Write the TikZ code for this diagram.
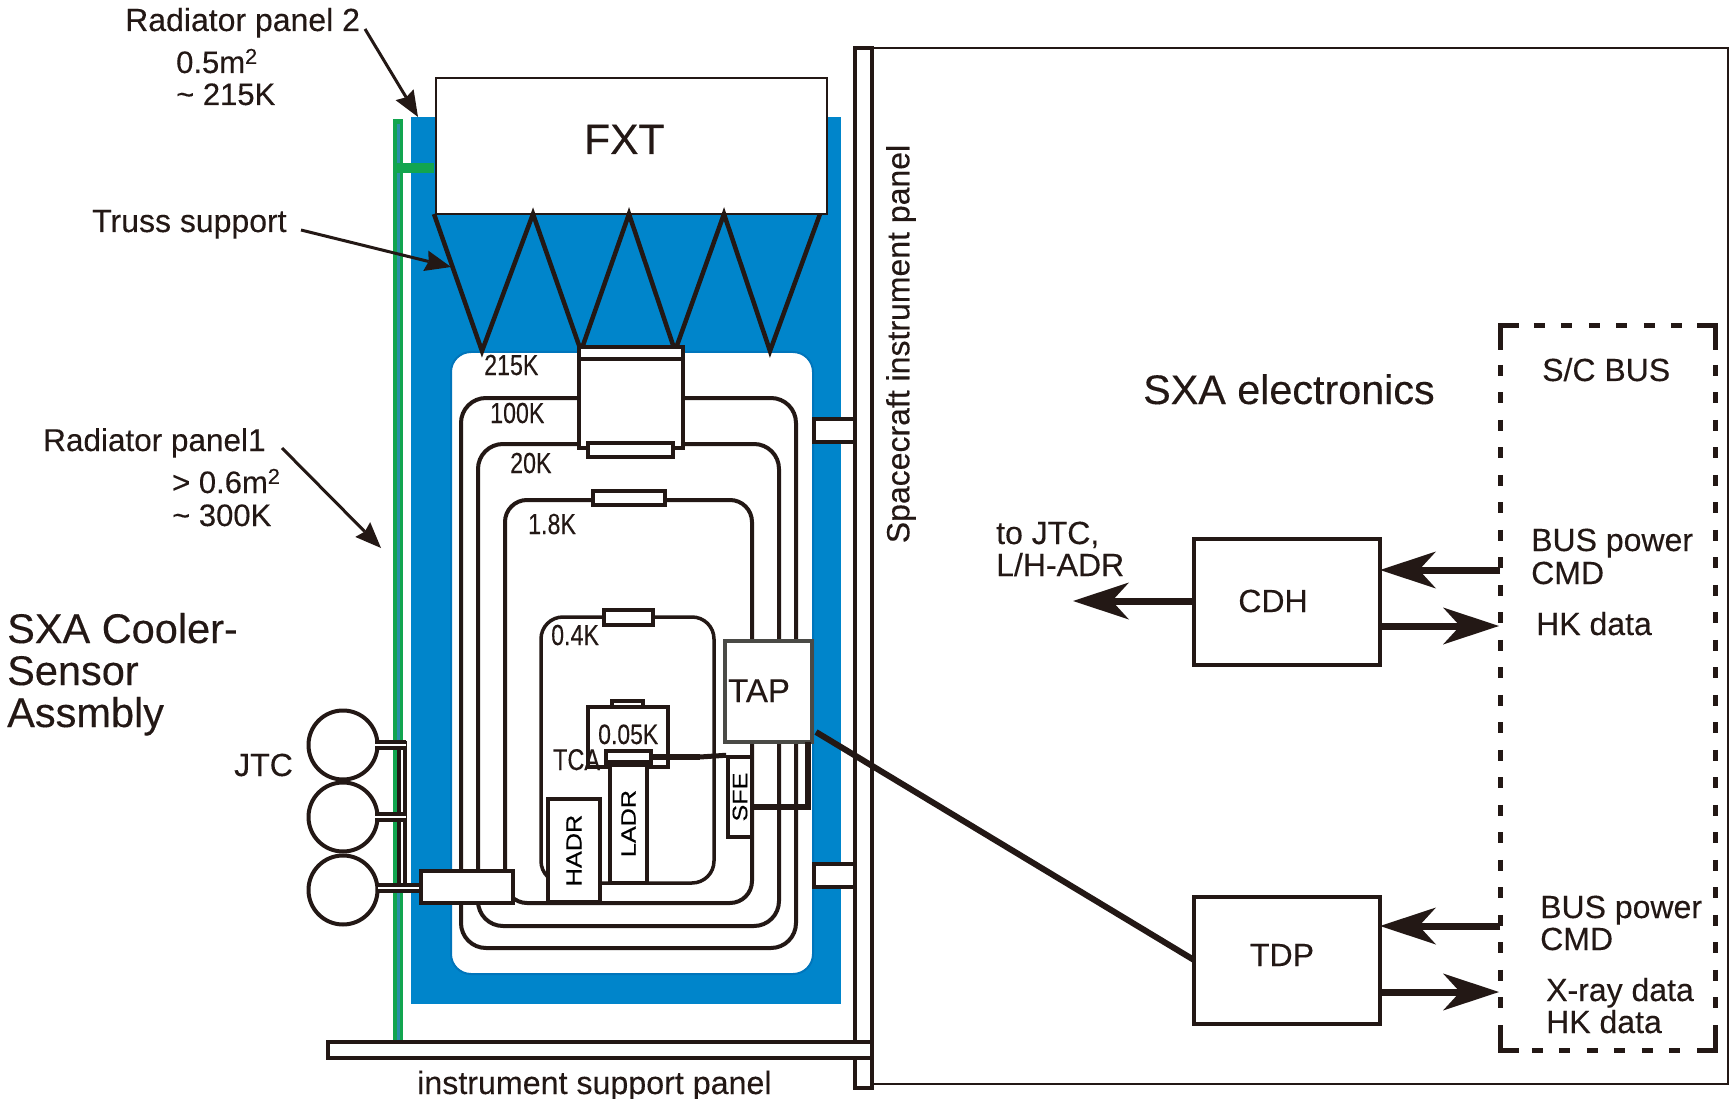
\documentclass[tikz,border=0pt]{standalone}
\usepackage{fontspec}
\usepackage{graphicx}
\setmainfont{Liberation Sans}[FakeBold=0.25]
\usetikzlibrary{arrows.meta}
\definecolor{ink}{HTML}{231815}
\definecolor{panelblue}{HTML}{0085CB}
\definecolor{paneledge}{HTML}{0075BB}
\definecolor{radgreen}{HTML}{12A54F}
\definecolor{radstripe}{HTML}{2A90A8}
\definecolor{tapgray}{HTML}{4A4A46}
\newcommand\fs[1]{\fontsize{#1}{#1}\selectfont}
\newcommand\nar[2]{\scalebox{#1}[1]{#2}}
\newcommand\bx[7]{\node[#6,minimum width={(#4-#2)*1pt},minimum height={(#5-#3)*1pt},inner sep=0pt] (#1) at ({(#2+#4)/2},{(#3+#5)/2}) {#7};}
\tikzset{
  box/.style={draw=ink,fill=white,line width=4pt},
  thinbox/.style={draw=ink,fill=white,line width=3.5pt},
  tapbox/.style={draw=tapgray,fill=white,line width=4.5pt},
  loopline/.style={draw=ink,line width=4pt},
  truss/.style={draw=ink,line width=4.5pt,line join=miter},
  heavywire/.style={draw=ink,line width=6.5pt},
  bigarrow/.style={draw=ink,line width=7pt,-{Stealth[length=56pt,width=37pt,inset=17pt,line width=0pt]}},
  smallarrow/.style={draw=ink,line width=3pt,-{Stealth[length=26pt,width=21pt,inset=3pt,line width=0pt]}},
  tube/.style={draw=ink,line width=4pt,double=white,double distance=2.2pt},
  lbl/.style={text=ink,inner sep=0pt,anchor=base west},
  clbl/.style={text=ink,inner sep=0pt,anchor=center},
  buscorner/.style={draw=ink,line width=4.7pt,line cap=butt,line join=miter},
  busdash/.style={draw=ink,line width=4.7pt,dash pattern=on 11pt off 16.5pt}
}
\begin{document}
\begin{tikzpicture}[x=1pt,y=-1pt]
\useasboundingbox (0,0) rectangle (1730,1099);
% radiator panels
\fill[panelblue] (411,117) rectangle (841,1004);
\fill[radgreen] (393,119) rectangle (403,1042);
\fill[radstripe] (396.5,124) rectangle (399.5,1042);
\fill[radgreen] (397,163) rectangle (434,173);
\draw[fill=white,draw=paneledge,line width=2pt,rounded corners=20pt] (451,352) rectangle (813,974);
% truss
\bx{fxt}{436}{78}{827}{214}{draw=ink,fill=white,line width=2.6pt}{}
\draw[truss] (434,214) -- (482,351) -- (533,214) -- (581,351) -- (629,214) -- (675,351) -- (724,214) -- (770,351) -- (820,214);
% thermal shields
\draw[loopline,rounded corners=25pt] (461,398) rectangle (796,948);
\draw[loopline,rounded corners=25pt] (478,444) rectangle (779,926);
\draw[loopline,rounded corners=22pt] (505,500) rectangle (752,903);
\draw[draw=ink,line width=3.5pt,rounded corners=22pt] (541,617) rectangle (714,883);
% central column
\bx{col}{579}{359}{683}{448}{box}{}
\bx{colcap}{579}{347}{683}{359}{box}{}
\bx{colbar}{588}{443}{673}{457}{box}{}
\bx{barA}{593}{491}{665}{505}{box}{}
\bx{barB}{604}{610}{653}{625}{box}{}
% tabs and structure
\bx{tabA}{814}{419}{858}{442}{box}{}
\bx{tabB}{814}{864}{858}{887}{box}{}
% detector
\bx{capC}{612}{701}{643}{707}{thinbox}{}
\bx{tca}{588}{707}{668}{767}{box}{}
\bx{ladr}{610}{764}{647}{883}{box}{\rotatebox{90}{\fs{21}\nar{1.2}{LADR}}}
\bx{hadr}{548}{799}{600}{902}{box}{\rotatebox{90}{\fs{22}\nar{1.15}{HADR}}}
\bx{sfe}{728}{757}{752}{837}{thinbox}{\rotatebox{90}{\fs{21}\nar{1.2}{SFE}}}
\bx{inbar}{606}{751}{651}{762}{box}{}
\coordinate (inbarR) at (651,757);
\coordinate (wireMid) at (700,757);
\draw[heavywire] (inbar.south west) -- (inbar.south east);
\draw[heavywire] (inbarR) -- (wireMid);
\draw[draw=ink,line width=5pt] (wireMid) -- (sfe.north west);
\bx{tap}{725}{641}{812}{742}{tapbox}{}
\coordinate (tapBR) at (808,742);
\coordinate (tapC) at (808,807);
\coordinate (tapL) at (752,807);
\draw[heavywire] (tapBR) -- (tapC) -- (tapL);
% electronics frame
\bx{frame}{872}{48}{1728}{1084}{draw=ink,fill=white,line width=2.8pt}{}
\bx{scpanel}{855}{48}{872}{1088}{box}{}
\bx{support}{328}{1042}{872}{1058}{box}{}
\bx{cdh}{1194}{539}{1380}{665}{box}{}
\bx{tdp}{1194}{897}{1380}{1024}{box}{}
% S/C bus
\bx{bus}{1501}{326}{1715}{1050}{inner sep=0pt}{}
\draw[busdash] ([xshift=33pt]bus.north west) -- ([xshift=-20pt]bus.north east);
\draw[busdash] ([xshift=31pt]bus.south west) -- ([xshift=-20pt]bus.south east);
\draw[busdash] ([yshift=-39pt]bus.north west) -- ([yshift=28pt]bus.south west);
\draw[busdash] ([yshift=-39pt]bus.north east) -- ([yshift=28pt]bus.south east);
\draw[buscorner] ([yshift=25pt]bus.south west) -- (bus.south west) -- ([xshift=18pt]bus.south west);
\draw[buscorner] ([yshift=25pt]bus.south east) -- (bus.south east) -- ([xshift=-18pt]bus.south east);
\draw[buscorner] ([yshift=-24pt]bus.north west) -- (bus.north west) -- ([xshift=18pt]bus.north west);
\draw[buscorner] ([yshift=-24pt]bus.north east) -- (bus.north east) -- ([xshift=-18pt]bus.north east);
% JTC
\node[draw=ink,fill=white,circle,line width=4pt,minimum size=69pt,inner sep=0pt] (jtcA) at (343,745) {};
\node[draw=ink,fill=white,circle,line width=4pt,minimum size=69pt,inner sep=0pt] (jtcB) at (343,817) {};
\node[draw=ink,fill=white,circle,line width=4pt,minimum size=69pt,inner sep=0pt] (jtcC) at (343,890) {};
\coordinate (tubeTop) at (402,741);
\coordinate (tubeBot) at (402,888);
\coordinate (tubeA) at (406,745);
\coordinate (tubeB) at (406,817);
\coordinate (tubeEnd) at (424,888);
\coordinate (stubA) at (375,745);
\coordinate (stubB) at (375,817);
\coordinate (stubC) at (378,888);
\draw[tube] (tubeTop) -- (tubeBot);
\draw[tube] (stubA) -- (tubeA);
\draw[tube] (stubB) -- (tubeB);
\draw[tube] (stubC) -- (tubeEnd);
\bx{cooler}{421}{871}{513}{903}{box}{}
% connectors
\coordinate (tapOut) at (816,732);
\coordinate (tdpIn) at (1194,960);
\draw[draw=ink,line width=6pt] (tapOut) -- (tdpIn);
\coordinate (cdhCmdBus) at (1500,570);
\coordinate (cdhCmd) at (1380,570);
\coordinate (cdhHk) at (1380,626);
\coordinate (cdhHkBus) at (1499,626);
\coordinate (cdhOut) at (1194,601);
\coordinate (cdhOutEnd) at (1073,601);
\coordinate (tdpCmdBus) at (1500,926);
\coordinate (tdpCmd) at (1380,926);
\coordinate (tdpData) at (1380,992);
\coordinate (tdpDataBus) at (1499,992);
\draw[bigarrow] (cdhCmdBus) -- (cdhCmd);
\draw[bigarrow] (cdhHk) -- (cdhHkBus);
\draw[bigarrow] (cdhOut) -- (cdhOutEnd);
\draw[bigarrow] (tdpCmdBus) -- (tdpCmd);
\draw[bigarrow] (tdpData) -- (tdpDataBus);
\coordinate (rTwoS) at (365,29);
\coordinate (rTwoE) at (418,117);
\coordinate (trS) at (301,230);
\coordinate (trE) at (451,267);
\coordinate (rOneS) at (282,448);
\coordinate (rOneE) at (381,548);
\draw[smallarrow] (rTwoS) -- (rTwoE);
\draw[smallarrow] (trS) -- (trE);
\draw[smallarrow] (rOneS) -- (rOneE);
% labels
\node[lbl,font=\fs{32}] (tRtwo) at (125,31) {Radiator panel 2};
\node[lbl,font=\fs{31}] (tRtwoA) at (176,73) {0.5m\textsuperscript{2}};
\node[lbl,font=\fs{31}] (tRtwoB) at (176,105) {\textasciitilde{} 215K};
\node[lbl,font=\fs{32}] (tTruss) at (92,232) {Truss support};
\node[lbl,font=\fs{31.5}] (tRone) at (43,451) {Radiator panel1};
\node[lbl,font=\fs{31}] (tRoneA) at (172,493) {> 0.6m\textsuperscript{2}};
\node[lbl,font=\fs{31}] (tRoneB) at (172,526) {\textasciitilde{} 300K};
\node[lbl,font=\fs{41.5}] (tSa) at (7,643) {SXA Cooler-};
\node[lbl,font=\fs{41.5}] (tSb) at (7,685) {Sensor};
\node[lbl,font=\fs{41.5}] (tSc) at (7,727) {Assmbly};
\node[lbl,font=\fs{32}] (tJtc) at (234,776) {JTC};
\node[lbl,font=\fs{42.5}] (tFxt) at (584,154) {FXT};
\node[lbl,font=\fs{29}] (tKa) at (484,375) {\nar{.8}{215K}};
\node[lbl,font=\fs{29}] (tKb) at (490,423) {\nar{.8}{100K}};
\node[lbl,font=\fs{29}] (tKc) at (510,473) {\nar{.8}{20K}};
\node[lbl,font=\fs{29}] (tKd) at (528,534) {\nar{.8}{1.8K}};
\node[lbl,font=\fs{29}] (tKe) at (551,645) {\nar{.8}{0.4K}};
\node[lbl,font=\fs{28}] (tKf) at (598,744) {\nar{.82}{0.05K}};
\node[lbl,font=\fs{30}] (tTca) at (553,770) {\nar{.78}{TCA}};
\node[lbl,font=\fs{33}] (tTap) at (728,702) {TAP};
\node[clbl,font=\fs{32},rotate=90] (tScp) at (901,344) {Spacecraft instrument panel};
\node[lbl,font=\fs{32.2}] (tSup) at (417,1094) {instrument support panel};
\node[lbl,font=\fs{41.3}] (tEl) at (1143,404) {SXA electronics};
\node[lbl,font=\fs{32}] (tBus) at (1542,381) {S/C BUS};
\node[lbl,font=\fs{32}] (tJa) at (996,544) {to JTC,};
\node[lbl,font=\fs{32}] (tJb) at (996,576) {L/H-ADR};
\node[clbl,font=\fs{32}] (tCdh) at (1273,601) {CDH};
\node[clbl,font=\fs{32}] (tTdp) at (1282,955) {TDP};
\node[lbl,font=\fs{32}] (tPa) at (1531,551) {BUS power};
\node[lbl,font=\fs{32}] (tPb) at (1531,584) {CMD};
\node[lbl,font=\fs{32}] (tHk) at (1536,635) {HK data};
\node[lbl,font=\fs{32}] (tQa) at (1540,918) {BUS power};
\node[lbl,font=\fs{32}] (tQb) at (1540,950) {CMD};
\node[lbl,font=\fs{32}] (tXa) at (1546,1001) {X-ray data};
\node[lbl,font=\fs{32}] (tXb) at (1546,1033) {HK data};
\end{tikzpicture}
\end{document}
